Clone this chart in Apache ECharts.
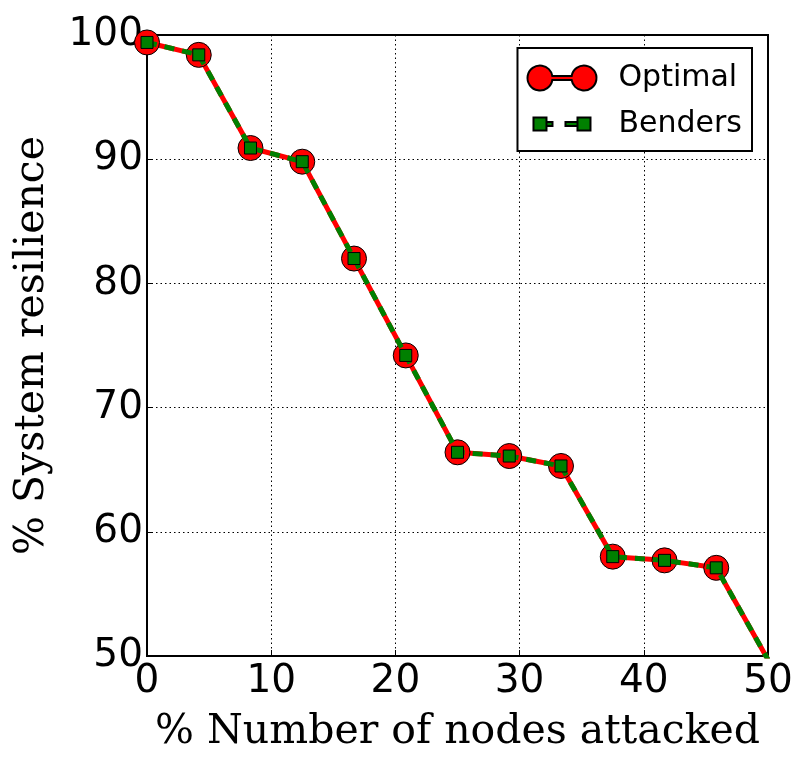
<!DOCTYPE html>
<html>
<head>
<meta charset="utf-8">
<script src="https://cdn.jsdelivr.net/npm/echarts@6/dist/echarts.min.js"></script>
<style>
  html, body { margin: 0; padding: 0; background: #fff; }
  #main { width: 807px; height: 771px; }
</style>
</head>
<body>
<div id="main"></div>
<script>
// % of nodes attacked (steps of 1/24)
let xValues = [0, 4.1667, 8.3333, 12.5, 16.6667, 20.8333, 25, 29.1667, 33.3333, 37.5, 41.6667, 45.8333, 50]
let optimal = [99.4, 98.4, 90.9, 89.8, 82.0, 74.2, 66.4, 66.1, 65.3, 58.0, 57.7, 57.1, 49.7]
let benders = [99.4, 98.4, 90.9, 89.8, 82.0, 74.2, 66.4, 66.1, 65.3, 58.0, 57.7, 57.1, 49.7]
let xTicks = [0, 10, 20, 30, 40, 50]
let yTicks = [50, 60, 70, 80, 90, 100]

function pairs(xs, ys) {
    return xs.map(function (x, i) { return [x, ys[i]] })
}

// legend icons like matplotlib (two markers joined by the line)
var optimalIcon = 'path://M0,0 M69,25 M24.84,10.5 L44.16,10.5 A12.5,12.5 0 1,1 44.16,14.5 L24.84,14.5 A12.5,12.5 0 1,1 24.84,10.5 Z'
var bendersIcon = 'path://M0,0 M69,25 M6,6 L19,6 L19,19 L6,19 Z M19,10.5 L25,10.5 L25,14.5 L19,14.5 Z M38,10.5 L50,10.5 L50,14.5 L38,14.5 Z M50,6 L63,6 L63,19 L50,19 Z'

var chartDom = document.getElementById('main')
var myChart = echarts.init(chartDom)
var tickFont = 'DejaVu Sans'
var titleFont = 'DejaVu Serif'
var gridLine = { show: true, lineStyle: { color: '#000', type: [1.5, 3], width: 1 } }

var option = {
    animation: false,
    backgroundColor: '#fff',
    grid: {
        left: 147, right: 39, top: 35, bottom: 115,
        show: true, borderColor: '#000', borderWidth: 2
    },
    legend: {
        right: 55, top: 48,
        orient: 'vertical',
        backgroundColor: '#fff',
        borderColor: '#000', borderWidth: 2, borderRadius: 0,
        padding: [15, 10, 12, 9],
        itemGap: 16,
        itemWidth: 69, itemHeight: 25,
        textStyle: { fontFamily: tickFont, fontSize: 30, color: '#000', padding: [0, 0, 0, 17] },
        data: [
            { name: 'Optimal', icon: optimalIcon },
            { name: 'Benders', icon: bendersIcon }
        ]
    },
    xAxis: {
        type: 'value',
        min: 0, max: 50, interval: 10,
        name: '% Number of nodes attacked',
        nameLocation: 'middle',
        nameGap: 56,
        nameTextStyle: { fontFamily: titleFont, fontSize: 41, color: '#000' },
        axisLine: { show: true, onZero: false, lineStyle: { color: '#000', width: 2 } },
        axisTick: { show: true, inside: true, length: 6, lineStyle: { color: '#000' } },
        axisLabel: {
            fontFamily: tickFont, fontSize: 39, color: '#000', margin: 6,
            formatter: function (v) { return xTicks.indexOf(v) >= 0 ? String(v) : '' }
        },
        splitLine: gridLine
    },
    yAxis: {
        type: 'value',
        min: 50, max: 100, interval: 10,
        name: '% System resilience',
        nameLocation: 'middle',
        nameGap: 94,
        nameTextStyle: { fontFamily: titleFont, fontSize: 41, color: '#000' },
        axisLine: { show: true, lineStyle: { color: '#000', width: 2 } },
        axisTick: { show: true, inside: true, length: 6, lineStyle: { color: '#000' } },
        axisLabel: {
            fontFamily: tickFont, fontSize: 39, color: '#000', margin: 4,
            formatter: function (v) { return yTicks.indexOf(v) >= 0 ? String(v) : '' }
        },
        splitLine: gridLine
    },
    series: [
        {
            name: 'Optimal',
            type: 'line',
            data: pairs(xValues, optimal),
            symbol: 'circle',
            symbolSize: 25,
            clip: true,
            itemStyle: { color: '#ff0000', borderColor: '#000', borderWidth: 1 },
            lineStyle: { color: '#ff0000', width: 5 },
            z: 2
        },
        {
            name: 'Benders',
            type: 'line',
            data: pairs(xValues, benders),
            symbol: 'rect',
            symbolSize: 12,
            clip: true,
            itemStyle: { color: '#008000', borderColor: '#000', borderWidth: 1 },
            lineStyle: { color: '#008000', width: 5, type: [10, 8] },
            z: 3
        }
    ]
}
option && myChart.setOption(option)
</script>
</body>
</html>
